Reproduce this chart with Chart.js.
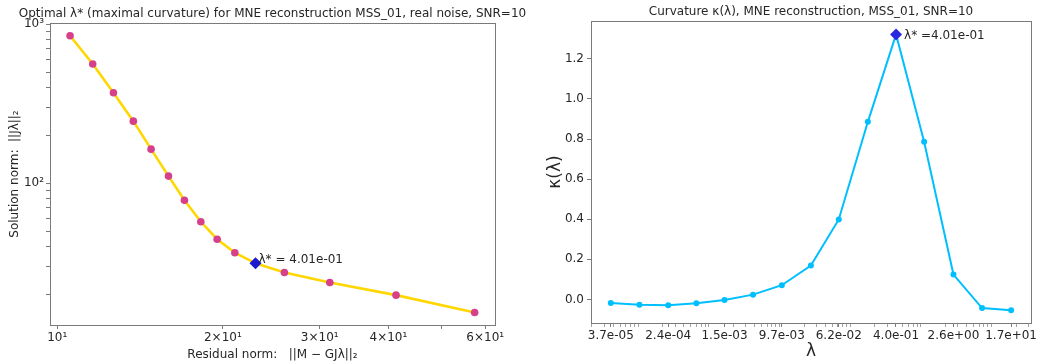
<!DOCTYPE html>
<html>
<head>
<meta charset="utf-8">
<script src="https://cdn.jsdelivr.net/npm/chart.js@4.4.1/dist/chart.umd.min.js"></script>
<style>
  html, body { margin: 0; padding: 0; background: #fff; }
  #wrap { position: relative; width: 1037px; height: 362px; overflow: hidden; }
  .box { position: absolute; top: 0; height: 362px; }
  #left { left: 0; width: 545px; }
  #right { left: 518px; width: 519px; }
</style>
</head>
<body>
<div id="wrap">
  <div class="box" id="left"><canvas id="lcurveChart"></canvas></div>
  <div class="box" id="right"><canvas id="curvChart"></canvas></div>
</div>
<script>
// L-curve (왼쪽) + curvature (오른쪽), 값은 그림에서 눈으로 읽음

const lambdas = [3.7e-5, 9.4e-5, 2.4e-4, 6.0e-4, 1.5e-3, 3.8e-3, 9.7e-3, 2.5e-2, 6.2e-2, 1.6e-1, 4.01e-1, 1.0, 2.6, 6.6, 17];
const residualNorm = [10.55, 11.6, 12.65, 13.75, 14.81, 15.93, 17.03, 18.24, 19.53, 21.03, 22.93, 25.88, 31.3, 41.3, 57.4];
const solutionNorm = [847, 563, 371, 246, 164, 111, 78.2, 57.3, 44.5, 36.6, 31.4, 27.5, 23.8, 19.8, 15.4];
const curvature = [-0.018, -0.026, -0.029, -0.019, -0.003, 0.024, 0.071, 0.169, 0.399, 0.886, 1.322, 0.787, 0.124, -0.043, -0.054];
const bestIndex = 10;

const lcurveXTicks = [10, 20, 30, 40, 50, 60];
const lcurveXLabels = ["10\u00b9", "2\u00d710\u00b9", "3\u00d710\u00b9", "4\u00d710\u00b9", "", "6\u00d710\u00b9"];
const lcurveYTicks = [20, 30, 40, 50, 60, 70, 80, 90, 100, 200, 300, 400, 500, 600, 700, 800, 900, 1000];
const lcurveYLabels = ["", "", "", "", "", "", "", "", "10\u00b2", "", "", "", "", "", "", "", "", "10\u00b3"];
const curvXTicks = [3.7e-5, 2.4e-4, 1.5e-3, 9.7e-3, 6.2e-2, 4.0e-1, 2.6, 17];
const curvXLabels = ["3.7e-05", "2.4e-04", "1.5e-03", "9.7e-03", "6.2e-02", "4.0e-01", "2.6e+00", "1.7e+01"];
// matplotlib 로그축 보조 눈금 (라벨 없음)
const curvXMinor = [
  2e-5, 3e-5, 4e-5, 5e-5, 6e-5, 7e-5, 8e-5, 9e-5,
  2e-4, 3e-4, 4e-4, 5e-4, 6e-4, 7e-4, 8e-4, 9e-4,
  2e-3, 3e-3, 4e-3, 5e-3, 6e-3, 7e-3, 8e-3, 9e-3,
  2e-2, 3e-2, 4e-2, 5e-2, 6e-2, 7e-2, 8e-2, 9e-2,
  2e-1, 3e-1, 4e-1, 5e-1, 6e-1, 7e-1, 8e-1, 9e-1,
  2, 3, 4, 5, 6, 7, 8, 9, 20, 30,
];
const curvYTicks = [0, 0.2, 0.4, 0.6, 0.8, 1.0, 1.2];

const FONT = "'DejaVu Sans', sans-serif";
const TXT = "#262626";
const SPINE = "#7a7a7a";

Chart.defaults.font.family = FONT;
Chart.defaults.color = TXT;

// matplotlib처럼 사방 테두리 + 제목 + 주석
const framePlugin = {
  id: "frame",
  afterDraw(chart, args, opts) {
    const { ctx, chartArea: a } = chart;
    ctx.save();
    ctx.strokeStyle = SPINE;
    ctx.lineWidth = 1;
    ctx.strokeRect(a.left + 0.5, a.top + 0.5, a.right - a.left, a.bottom - a.top);
    ctx.fillStyle = TXT;
    ctx.font = "12px " + FONT;
    ctx.textAlign = "center";
    ctx.textBaseline = "alphabetic";
    ctx.fillText(opts.title, opts.titleX != null ? opts.titleX : (a.left + a.right) / 2, a.top - 6);
    if (opts.note) {
      const p = chart.data.datasets[opts.note.dataset].data[0];
      const x = chart.scales.x.getPixelForValue(p.x);
      const y = chart.scales.y.getPixelForValue(p.y);
      ctx.textAlign = "left";
      ctx.textBaseline = "middle";
      ctx.fillText(opts.note.text, x + opts.note.dx, y + opts.note.dy);
    }
    ctx.restore();
  },
};

function fixSize(w, h) {
  return (scale) => {
    if (w != null) scale.width = w;
    if (h != null) scale.height = h;
    scale.paddingLeft = 0; scale.paddingRight = 0;
    scale.paddingTop = 0; scale.paddingBottom = 0;
  };
}

function setTicks(values) {
  return (scale) => { scale.ticks = values.map((v) => ({ value: v })); };
}

const tickGrid = { drawOnChartArea: false, drawTicks: true, tickLength: 4, color: SPINE };

new Chart(document.getElementById("lcurveChart"), {
  type: "line",
  data: {
    datasets: [
      {
        data: residualNorm.map((r, i) => ({ x: r, y: solutionNorm[i] })),
        borderColor: "#ffd700",
        pointBackgroundColor: "#d6408b",
        pointBorderWidth: 0,
        pointRadius: 3.8,
        borderWidth: 2.6,
        tension: 0,
        order: 2,
      },
      {
        data: [{ x: residualNorm[bestIndex], y: solutionNorm[bestIndex] }],
        showLine: false,
        pointStyle: "rectRot",
        pointRadius: 6,
        pointBackgroundColor: "#1a1ad0",
        pointBorderWidth: 0,
        order: 1,
      },
    ],
  },
  options: {
    responsive: true,
    maintainAspectRatio: false,
    animation: false,
    parsing: false,
    layout: { padding: { left: 0, right: 50, top: 23, bottom: 0 } },
    scales: {
      x: {
        type: "logarithmic",
        min: 9.7,
        max: 62.5,
        afterFit: fixSize(null, 37),
        afterBuildTicks: setTicks(lcurveXTicks),
        grid: tickGrid,
        border: { color: SPINE },
        ticks: {
          autoSkip: false, maxRotation: 0, padding: 2,
          font: { size: 12 },
          callback: (v, i) => lcurveXLabels[i],
        },
        title: { display: true, text: "Residual norm:   ||M \u2212 GJ\u03bb||\u2082", font: { size: 12 }, padding: { top: 0, bottom: 0 } },
      },
      y: {
        type: "logarithmic",
        min: 12.85,
        max: 1019,
        afterFit: fixSize(50, null),
        afterBuildTicks: setTicks(lcurveYTicks),
        grid: tickGrid,
        border: { color: SPINE },
        ticks: {
          autoSkip: false, padding: 2,
          font: { size: 12 },
          callback: (v, i) => lcurveYLabels[i],
        },
        title: { display: true, text: "Solution norm:  ||J\u03bb||\u2082", font: { size: 12 }, padding: { top: 8, bottom: 0 } },
      },
    },
    plugins: {
      legend: { display: false },
      tooltip: { enabled: false },
      frame: {
        title: "Optimal \u03bb* (maximal curvature) for MNE reconstruction MSS_01, real noise, SNR=10",
        note: { dataset: 1, text: "\u03bb* = 4.01e-01", dx: 3, dy: -3 },
      },
    },
  },
  plugins: [framePlugin],
});

const curvXAll = curvXTicks.concat(curvXMinor);

new Chart(document.getElementById("curvChart"), {
  type: "line",
  data: {
    datasets: [
      {
        data: lambdas.map((l, i) => ({ x: l, y: curvature[i] })),
        borderColor: "#00bfff",
        pointBackgroundColor: "#00bfff",
        pointBorderWidth: 0,
        pointRadius: 3,
        borderWidth: 2,
        tension: 0,
        order: 2,
      },
      {
        data: [{ x: lambdas[bestIndex], y: curvature[bestIndex] }],
        showLine: false,
        pointStyle: "rectRot",
        pointRadius: 6,
        pointBackgroundColor: "#2828dc",
        pointBorderWidth: 0,
        order: 1,
      },
    ],
  },
  options: {
    responsive: true,
    maintainAspectRatio: false,
    animation: false,
    parsing: false,
    layout: { padding: { left: 0, right: 4, top: 21, bottom: 0 } },
    scales: {
      x: {
        type: "logarithmic",
        min: 1.94e-5,
        max: 32.5,
        afterFit: fixSize(null, 39),
        afterBuildTicks: setTicks(curvXAll),
        grid: {
          drawOnChartArea: false, drawTicks: true, tickLength: 4, color: SPINE,
          tickWidth: (c) => (c.index < curvXTicks.length ? 1 : 0.7),
        },
        border: { color: SPINE },
        ticks: {
          autoSkip: false, maxRotation: 0, padding: 2,
          font: { size: 12 },
          callback: (v, i) => (i < curvXLabels.length ? curvXLabels[i] : ""),
        },
        title: { display: true, text: "\u03bb", font: { size: 17 }, padding: { top: 0, bottom: 0 } },
      },
      y: {
        type: "linear",
        min: -0.1175,
        max: 1.389,
        afterFit: fixSize(73, null),
        afterBuildTicks: setTicks(curvYTicks),
        grid: tickGrid,
        border: { color: SPINE },
        ticks: {
          autoSkip: false, padding: 3,
          font: { size: 12 },
          callback: (v) => v.toFixed(1),
        },
        title: { display: true, text: "\u03ba(\u03bb)", font: { size: 17 }, padding: { top: 27, bottom: 0 } },
      },
    },
    plugins: {
      legend: { display: false },
      tooltip: { enabled: false },
      frame: {
        title: "Curvature \u03ba(\u03bb), MNE reconstruction, MSS_01, SNR=10",
        note: { dataset: 1, text: "\u03bb* =4.01e-01", dx: 8, dy: 1 },
      },
    },
  },
  plugins: [framePlugin],
});
</script>
</body>
</html>
